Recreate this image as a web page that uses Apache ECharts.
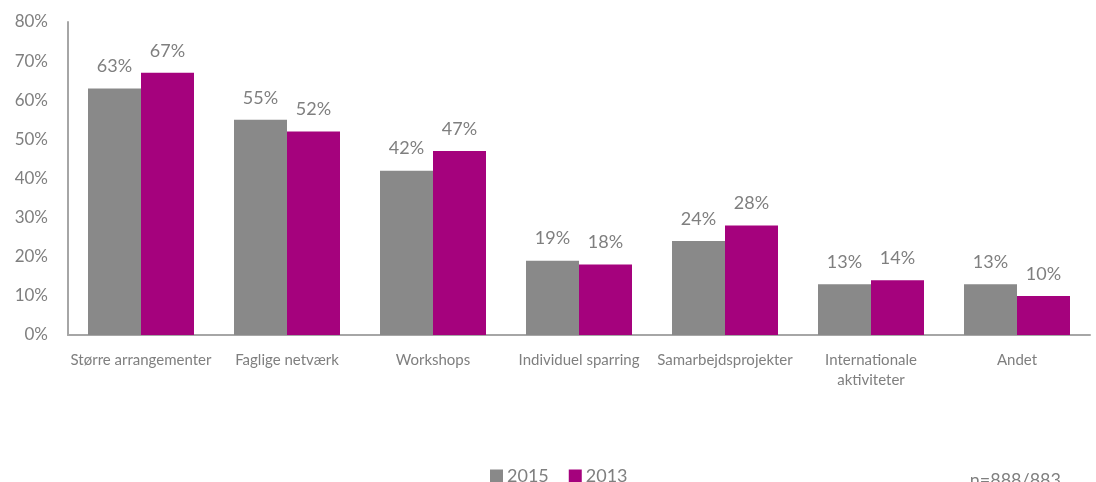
<!DOCTYPE html>
<html>
<head>
<meta charset="utf-8">
<script src="https://cdn.jsdelivr.net/npm/echarts@6/dist/echarts.min.js"></script>
<style>
  html, body { margin: 0; padding: 0; background: #fff; }
  #chart { width: 1096px; height: 482px; }
</style>
</head>
<body>
<div id="chart"></div>
<script>
const categories = [
  'Større arrangementer',
  'Faglige netværk',
  'Workshops',
  'Individuel sparring',
  'Samarbejdsprojekter',
  'Internationale\naktiviteter',
  'Andet'
];
const values2015 = [63, 55, 42, 19, 24, 13, 13];
const values2013 = [67, 52, 47, 18, 28, 14, 10];
const yTicks = [0, 10, 20, 30, 40, 50, 60, 70, 80];
const sampleNote = 'n=888/883';

const FONT = 'Lato, "Open Sans", sans-serif';
const TEXT = '#7f7f7f';

const chart = echarts.init(document.getElementById('chart'), null, { renderer: 'canvas' });

const valueLabel = {
  show: true,
  position: 'top',
  distance: 13,
  formatter: p => p.value + '%',
  color: TEXT,
  fontFamily: FONT,
  fontSize: 18
};

chart.setOption({
  animation: false,
  grid: { left: 68, right: 6, top: 22, bottom: 147, containLabel: false },
  legend: {
    bottom: -3,
    left: 490,
    itemWidth: 13,
    itemHeight: 13,
    itemGap: 20,
    icon: 'rect',
    padding: 0,
    textStyle: { color: TEXT, fontFamily: FONT, fontSize: 18, padding: [0, 0, 0, -1] },
    data: ['2015', '2013']
  },
  graphic: [{
    type: 'text',
    right: 35,
    bottom: -7,
    style: { text: sampleNote, fill: TEXT, font: '18px ' + FONT }
  }],
  xAxis: {
    type: 'category',
    data: categories,
    axisLine: { lineStyle: { color: '#a6a6a6', width: 2 } },
    axisTick: { show: false },
    axisLabel: {
      color: TEXT, fontFamily: FONT, fontSize: 15, margin: 15,
      lineHeight: 20, interval: 0
    }
  },
  yAxis: {
    type: 'value',
    min: yTicks[0],
    max: yTicks[yTicks.length - 1],
    interval: 10,
    axisLine: { show: true, lineStyle: { color: '#a6a6a6', width: 2 } },
    axisTick: { show: false },
    splitLine: { show: false },
    axisLabel: {
      color: TEXT, fontFamily: FONT, fontSize: 17, margin: 20,
      formatter: v => v + '%'
    }
  },
  series: [
    {
      name: '2015', type: 'bar', data: values2015,
      barWidth: 53, barGap: '0%',
      itemStyle: { color: '#898989' },
      label: valueLabel
    },
    {
      name: '2013', type: 'bar', data: values2013,
      barWidth: 53,
      itemStyle: { color: '#a5027d' },
      label: valueLabel
    }
  ]
});
</script>
</body>
</html>
